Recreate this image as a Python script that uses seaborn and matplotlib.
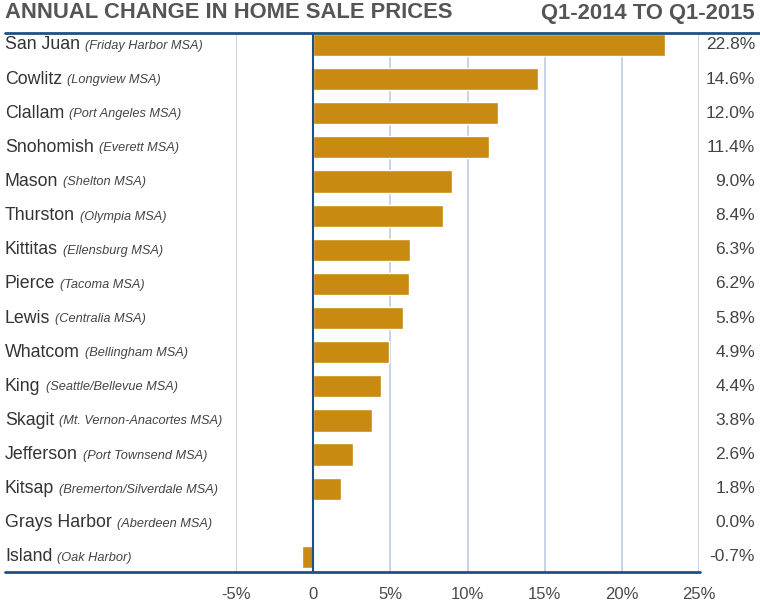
import matplotlib
matplotlib.use("Agg")
import matplotlib.pyplot as plt
import seaborn as sns
import pandas as pd
from matplotlib.lines import Line2D

counties = ["San Juan", "Cowlitz", "Clallam", "Snohomish", "Mason", "Thurston",
            "Kittitas", "Pierce", "Lewis", "Whatcom", "King", "Skagit",
            "Jefferson", "Kitsap", "Grays Harbor", "Island"]
msas = ["(Friday Harbor MSA)", "(Longview MSA)", "(Port Angeles MSA)", "(Everett MSA)",
        "(Shelton MSA)", "(Olympia MSA)", "(Ellensburg MSA)", "(Tacoma MSA)",
        "(Centralia MSA)", "(Bellingham MSA)", "(Seattle/Bellevue MSA)",
        "(Mt. Vernon-Anacortes MSA)", "(Port Townsend MSA)",
        "(Bremerton/Silverdale MSA)", "(Aberdeen MSA)", "(Oak Harbor)"]
change = [22.8, 14.6, 12.0, 11.4, 9.0, 8.4, 6.3, 6.2, 5.8, 4.9, 4.4, 3.8, 2.6, 1.8, 0.0, -0.7]
xticks = [-5, 0, 5, 10, 15, 20, 25]
xticklabels = ["-5%", "0", "5%", "10%", "15%", "20%", "25%"]

df = pd.DataFrame({"county": counties, "change": change})

sns.set_style("white")
plt.rcParams["font.family"] = ["Liberation Sans", "DejaVu Sans"]

W, H = 760, 614
fig = plt.figure(figsize=(W / 100, H / 100), dpi=100)
ax = fig.add_axes([236 / W, 1 - 572 / H, (699 - 236) / W, (572 - 33) / H])

bar_col = "#c98a12"
grid_col = "#bccde0"
navy = "#1f4f8a"

sns.barplot(data=df, x="change", y="county", orient="h", color=bar_col,
            width=0.65, saturation=1, ax=ax, zorder=3)

ax.set_xlim(-5, 25)
ax.set_ylim(15.44, -0.35)
for x in xticks:
    if x == 0:
        ax.axvline(0, color=navy, lw=1.5, zorder=4)
    else:
        ax.axvline(x, color=grid_col, lw=1.2, zorder=1)
for s in ax.spines.values():
    s.set_visible(False)
ax.set_xticks(xticks)
ax.set_xticklabels(xticklabels, fontsize=12, color="#4a4a4a")
ax.tick_params(axis="x", length=0, pad=11)
ax.set_yticks([])
ax.set_xlabel("")
ax.set_ylabel("")

# top and bottom rules
fig.add_artist(Line2D([5 / W, 1.0], [1 - 33 / H] * 2, color=navy, lw=2))
fig.add_artist(Line2D([5 / W, 700 / W], [1 - 572 / H] * 2, color=navy, lw=2))

# titles
fig.text(5 / W, 1 - 13 / H, "ANNUAL CHANGE IN HOME SALE PRICES", fontsize=15.8,
         fontweight="bold", color="#555555", va="center", ha="left")
fig.text(755 / W, 1 - 13 / H, "Q1-2014 TO Q1-2015", fontsize=15.8,
         fontweight="bold", color="#555555", va="center", ha="right")

# row labels: county name, then italic MSA right after it, value at right edge
fig.canvas.draw()
renderer = fig.canvas.get_renderer()
for i, (c, m, v) in enumerate(zip(counties, msas, change)):
    y_fig = fig.transFigure.inverted().transform(ax.transData.transform((0, i)))[1]
    t = fig.text(5 / W, y_fig, c, fontsize=12.8, color="#333333", va="center", ha="left")
    bb = t.get_window_extent(renderer)
    fig.text((bb.x1 + 5) / W, y_fig - 1 / H, m, fontsize=9.2, style="italic",
             color="#444444", va="center", ha="left")
    fig.text(755 / W, y_fig, f"{v:.1f}%", fontsize=12.5, color="#444444",
             va="center", ha="right")

fig.savefig("out.png", dpi=100)
